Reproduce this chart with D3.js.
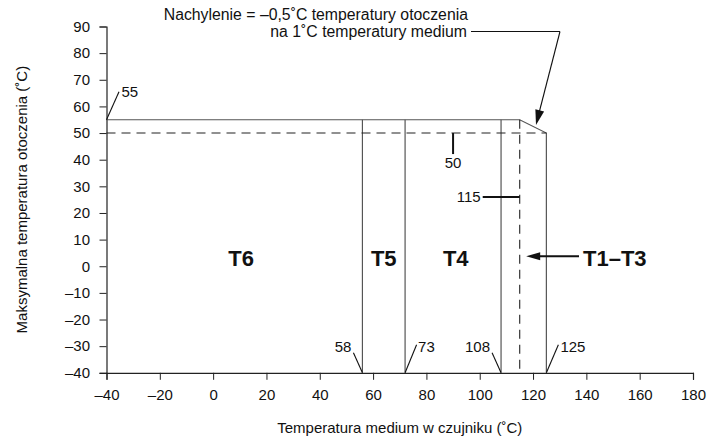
<!DOCTYPE html>
<html><head><meta charset="utf-8">
<script src="https://cdn.jsdelivr.net/npm/d3@7"></script>
<style>
body{margin:0;background:#fff;}
text{font-family:"Liberation Sans",Arial,Helvetica,sans-serif;fill:#111;}
</style></head><body>
<svg id="c" width="716" height="440"></svg>
<script>
// ---- data ----
const xTicks = [-40,-20,0,20,40,60,80,100,120,140,160,180];
const yTicks = [-40,-30,-20,-10,0,10,20,30,40,50,60,70,80,90];
const maxAmbient = 55;          // solid upper limit
const dashedAmbient = 50;        // dashed limit
const slopeStart = 115;          // slope begins (also dashed vertical)
const slopeEnd = 125;            // slope end / T1-T3 limit
const classBounds = [56, 72, 108];           // class boundary lines (as drawn)
const boundLabels = ["58", "73", "108", "125"];
const classNames = ["T6", "T5", "T4", "T1\u2013T3"];
const classCenters = [10.5, 64, 91];
const fmt = v => (v < 0 ? "\u2013" + Math.abs(v) : String(v));

const svg = d3.select("#c");
const x = d3.scaleLinear().domain([-40,180]).range([106.5,693]);
const y = d3.scaleLinear().domain([-40,90]).range([372.8,26.5]);
const FS = 15;

// axes
const gx = svg.append("g").attr("transform",`translate(0,${y(-40)})`)
  .call(d3.axisBottom(x).tickValues(xTicks).tickSize(7).tickPadding(9.5).tickFormat(fmt));
const gy = svg.append("g").attr("transform",`translate(${x(-40)},0)`)
  .call(d3.axisLeft(y).tickValues(yTicks).tickSize(7).tickPadding(9.5).tickFormat(fmt));
[gx,gy].forEach(g=>{
  g.select(".domain").attr("stroke","#222").attr("stroke-width",1.2);
  g.selectAll(".tick line").attr("stroke","#222");
  g.selectAll(".tick text").attr("font-size",FS).attr("fill","#111")
   .attr("font-family","Liberation Sans, Arial, sans-serif");
});

const lineCol = "#555";
// main envelope
svg.append("path")
  .attr("d", d3.line()([[x(-40),y(maxAmbient)],[x(slopeStart),y(maxAmbient)],[x(slopeEnd),y(dashedAmbient)],[x(slopeEnd),y(-40)]]))
  .attr("fill","none").attr("stroke",lineCol).attr("stroke-width",1.2);
// class boundaries
svg.selectAll(".bound").data(classBounds).enter().append("line")
  .attr("x1",d=>x(d)).attr("x2",d=>x(d)).attr("y1",y(maxAmbient)).attr("y2",y(-40))
  .attr("stroke",lineCol).attr("stroke-width",1.2);
// dashed
svg.append("line").attr("x1",x(-40)).attr("x2",x(slopeEnd)).attr("y1",y(dashedAmbient)).attr("y2",y(dashedAmbient))
  .attr("stroke","#222").attr("stroke-width",1.1).attr("stroke-dasharray","9,6");
svg.append("line").attr("x1",x(slopeStart)).attr("x2",x(slopeStart)).attr("y1",y(maxAmbient)).attr("y2",y(-40))
  .attr("stroke","#222").attr("stroke-width",1.1).attr("stroke-dasharray","9,6");

const ann = svg.append("g");
function leader(x1,y1,x2,y2,w){ann.append("line").attr("x1",x1).attr("y1",y1).attr("x2",x2).attr("y2",y2).attr("stroke","#111").attr("stroke-width",w||1.1);}
function txt(s,xx,yy,anchor,size,weight){return ann.append("text").attr("x",xx).attr("y",yy).attr("text-anchor",anchor||"start").attr("font-size",size||FS).attr("font-weight",weight||"normal").text(s);}

// 55 label
leader(x(-40),y(maxAmbient),x(-40)+12.5,y(maxAmbient)-28);
txt(String(maxAmbient),x(-40)+15,y(maxAmbient)-23);
// 50 label
leader(x(90),y(dashedAmbient),x(90),y(dashedAmbient)+21,2);
txt(String(dashedAmbient),x(90),y(dashedAmbient)+35,"middle");
// 115 label
const y115 = y(26);
leader(x(slopeStart),y115,x(slopeStart)-37,y115,2);
txt(String(slopeStart),x(slopeStart)-39,y115+5,"end");
// bottom boundary labels
const yb = y(-40);
leader(x(classBounds[0]),yb,x(classBounds[0])-9,yb-20); txt(boundLabels[0],x(classBounds[0])-11,yb-21,"end");
leader(x(classBounds[1]),yb,x(classBounds[1])+11.5,yb-28); txt(boundLabels[1],x(classBounds[1])+13,yb-21,"start");
leader(x(classBounds[2]),yb,x(classBounds[2])-9,yb-20); txt(boundLabels[2],x(classBounds[2])-11,yb-21,"end");
leader(x(slopeEnd),yb,x(slopeEnd)+12,yb-28); txt(boundLabels[3],x(slopeEnd)+14,yb-21,"start");

// class names
const yT = y(0)-0.5;
txt(classNames[0],x(classCenters[0]),yT,"middle",22,"bold");
txt(classNames[1],x(classCenters[1]),yT,"middle",22,"bold");
txt(classNames[2],x(classCenters[2]),yT,"middle",22,"bold");
txt(classNames[3],583,yT,"start",22,"bold");
// arrow to T1-T3
const ya = y(0)-10;
leader(579,ya,535,ya,2);
ann.append("path").attr("d",`M${x(slopeStart)+6.5},${ya} l14,-4 l0,8 z`).attr("fill","#111");

// slope annotation
const AFS = 15.8;
txt("Nachylenie = \u20130,5\u02DAC temperatury otoczenia",468,19.5,"end",AFS);
txt("na 1\u02DAC temperatury medium",467,37,"end",AFS);
leader(471,31.5,560,31.5);
const tipX = 536, tipY = 125;
leader(560,31.5,tipX+3,tipY-12);
ann.append("path").attr("d",(()=>{const ang=Math.atan2(tipY-31.5,tipX-560);const L=15,W=4.5;
  const bx=tipX-L*Math.cos(ang), by=tipY-L*Math.sin(ang);
  const px=-Math.sin(ang)*W, py=Math.cos(ang)*W;
  return `M${tipX},${tipY} L${bx+px},${by+py} L${bx-px},${by-py} Z`;})()).attr("fill","#111");

// axis titles
txt("Temperatura medium w czujniku (\u02DAC)",(x(-40)+x(180))/2,433,"middle",FS);
ann.append("text").attr("transform",`translate(27,${(y(-40)+y(90))/2}) rotate(-90)`)
  .attr("text-anchor","middle").attr("font-size",FS).text("Maksymalna temperatura otoczenia (\u02DAC)");
</script></body></html>
